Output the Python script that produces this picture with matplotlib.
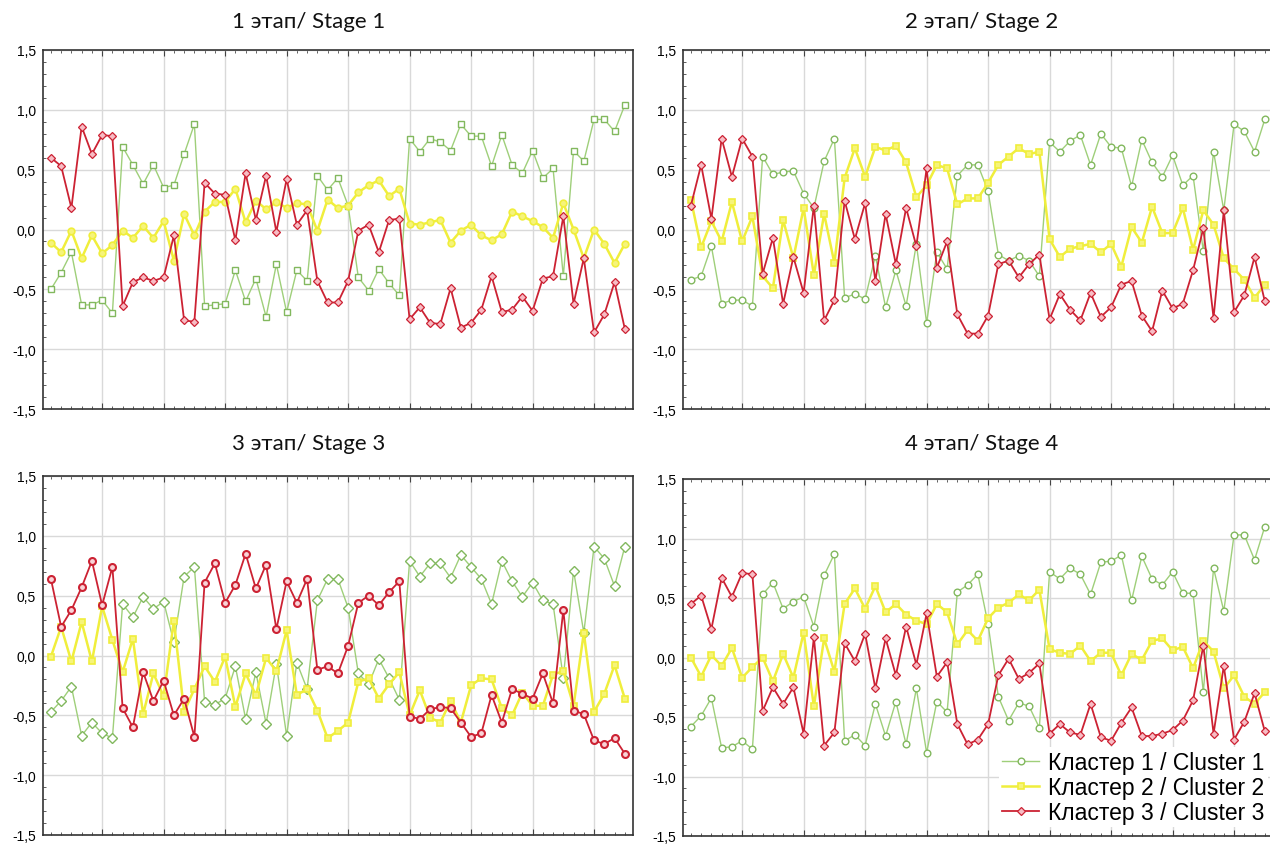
import matplotlib
matplotlib.use('Agg')
import matplotlib.pyplot as plt, numpy as np
from matplotlib.lines import Line2D
from matplotlib.ticker import FixedLocator, MultipleLocator, FuncFormatter

plt.rcParams['font.family'] = ['Liberation Sans', 'DejaVu Sans']

# ---- data (57 objects per stage) ----
x = np.arange(1, 58)

titles = ['1 этап/ Stage 1', '2 этап/ Stage 2', '3 этап/ Stage 3', '4 этап/ Stage 4']
labels = ['Кластер 1 / Cluster 1', 'Кластер 2 / Cluster 2', 'Кластер 3 / Cluster 3']

g1 = [-0.50, -0.36, -0.19, -0.63, -0.63, -0.59, -0.70, 0.69, 0.54, 0.38, 0.54, 0.35, 0.37, 0.63, 0.88,
      -0.64, -0.63, -0.62, -0.34, -0.60, -0.41, -0.73, -0.29, -0.69, -0.34, -0.43, 0.45, 0.33, 0.43, 0.20,
      -0.40, -0.51, -0.33, -0.45, -0.55, 0.76, 0.65, 0.76, 0.73, 0.66, 0.88, 0.78, 0.78, 0.53, 0.79, 0.54,
      0.47, 0.66, 0.43, 0.51, -0.39, 0.66, 0.57, 0.92, 0.92, 0.82, 1.04]
y1 = [-0.11, -0.19, -0.01, -0.24, -0.05, -0.20, -0.13, -0.01, -0.07, 0.03, -0.07, 0.07, -0.26, 0.13, -0.05,
      0.15, 0.23, 0.23, 0.34, 0.06, 0.24, 0.17, 0.23, 0.18, 0.22, 0.21, -0.01, 0.25, 0.18, 0.20, 0.31, 0.37,
      0.41, 0.28, 0.34, 0.05, 0.04, 0.06, 0.08, -0.11, -0.01, 0.04, -0.05, -0.09, -0.04, 0.15, 0.11, 0.07,
      0.02, -0.07, 0.22, 0.00, -0.24, 0.00, -0.12, -0.28, -0.12]
r1 = [0.60, 0.53, 0.18, 0.86, 0.63, 0.79, 0.78, -0.64, -0.44, -0.40, -0.43, -0.40, -0.05, -0.76, -0.77,
      0.39, 0.30, 0.29, -0.09, 0.47, 0.08, 0.45, -0.02, 0.42, 0.04, 0.16, -0.43, -0.61, -0.61, -0.43, -0.01,
      0.04, -0.19, 0.08, 0.09, -0.75, -0.65, -0.78, -0.79, -0.49, -0.82, -0.78, -0.67, -0.39, -0.69, -0.67,
      -0.56, -0.68, -0.41, -0.39, 0.11, -0.62, -0.24, -0.86, -0.71, -0.44, -0.83]

g2 = [-0.42, -0.39, -0.14, -0.62, -0.59, -0.59, -0.64, 0.61, 0.46, 0.48, 0.49, 0.30, 0.18, 0.57, 0.76,
      -0.57, -0.54, -0.58, -0.22, -0.65, -0.34, -0.64, -0.12, -0.78, -0.19, -0.33, 0.45, 0.54, 0.54, 0.32,
      -0.21, -0.26, -0.22, -0.26, -0.39, 0.73, 0.65, 0.74, 0.79, 0.54, 0.80, 0.69, 0.68, 0.36, 0.75, 0.56,
      0.44, 0.62, 0.37, 0.45, -0.18, 0.65, 0.16, 0.88, 0.82, 0.65, 0.92]
y2 = [0.25, -0.15, 0.07, -0.10, 0.23, -0.10, 0.11, -0.39, -0.49, 0.08, -0.24, 0.18, -0.38, 0.13, -0.28,
      0.43, 0.68, 0.44, 0.69, 0.66, 0.70, 0.56, 0.27, 0.37, 0.54, 0.51, 0.21, 0.26, 0.26, 0.39, 0.54, 0.61,
      0.68, 0.63, 0.65, -0.08, -0.23, -0.16, -0.14, -0.12, -0.19, -0.12, -0.31, 0.02, -0.11, 0.19, -0.03,
      -0.03, 0.18, -0.17, 0.16, 0.04, -0.24, -0.33, -0.42, -0.57, -0.46]
r2 = [0.20, 0.54, 0.09, 0.76, 0.44, 0.76, 0.61, -0.37, -0.07, -0.62, -0.23, -0.53, 0.20, -0.76, -0.59,
      0.24, -0.08, 0.22, -0.43, 0.13, -0.29, 0.18, -0.14, 0.51, -0.32, -0.10, -0.71, -0.87, -0.87, -0.72,
      -0.29, -0.26, -0.40, -0.29, -0.21, -0.75, -0.54, -0.67, -0.76, -0.53, -0.73, -0.65, -0.46, -0.43,
      -0.72, -0.85, -0.51, -0.66, -0.62, -0.34, 0.01, -0.74, 0.16, -0.69, -0.55, -0.23, -0.60]

g3 = [-0.47, -0.38, -0.26, -0.67, -0.56, -0.65, -0.69, 0.43, 0.32, 0.49, 0.39, 0.45, 0.11, 0.66, 0.74,
      -0.39, -0.41, -0.36, -0.09, -0.53, -0.14, -0.57, -0.07, -0.67, -0.06, -0.28, 0.46, 0.64, 0.64, 0.40,
      -0.15, -0.24, -0.03, -0.19, -0.37, 0.79, 0.66, 0.77, 0.77, 0.65, 0.84, 0.74, 0.64, 0.43, 0.79, 0.62,
      0.49, 0.61, 0.46, 0.43, -0.19, 0.71, 0.19, 0.91, 0.81, 0.58, 0.91]
y3 = [-0.01, 0.24, -0.05, 0.28, -0.05, 0.41, 0.13, -0.14, 0.14, -0.49, -0.15, -0.34, 0.29, -0.47, -0.28,
      -0.09, -0.22, -0.01, -0.43, -0.15, -0.33, -0.02, -0.13, 0.21, -0.33, -0.28, -0.46, -0.69, -0.63,
      -0.56, -0.22, -0.19, -0.36, -0.24, -0.14, -0.50, -0.29, -0.52, -0.56, -0.38, -0.56, -0.25, -0.19,
      -0.20, -0.44, -0.50, -0.31, -0.42, -0.42, -0.16, -0.13, -0.42, 0.19, -0.47, -0.32, -0.08, -0.36]
r3 = [0.64, 0.24, 0.38, 0.57, 0.79, 0.42, 0.74, -0.44, -0.60, -0.14, -0.38, -0.21, -0.50, -0.36, -0.68,
      0.61, 0.77, 0.44, 0.59, 0.85, 0.56, 0.76, 0.22, 0.62, 0.44, 0.64, -0.12, -0.09, -0.15, 0.08, 0.44,
      0.50, 0.42, 0.53, 0.62, -0.51, -0.53, -0.45, -0.43, -0.44, -0.56, -0.68, -0.65, -0.33, -0.56, -0.28,
      -0.32, -0.36, -0.15, -0.40, 0.38, -0.46, -0.49, -0.71, -0.74, -0.69, -0.82]

g4 = [-0.58, -0.49, -0.34, -0.76, -0.75, -0.70, -0.77, 0.53, 0.63, 0.41, 0.47, 0.51, 0.26, 0.69, 0.87,
      -0.70, -0.65, -0.74, -0.39, -0.66, -0.37, -0.73, -0.26, -0.80, -0.37, -0.46, 0.55, 0.61, 0.70, 0.28,
      -0.33, -0.53, -0.38, -0.41, -0.59, 0.72, 0.66, 0.75, 0.70, 0.53, 0.80, 0.81, 0.86, 0.48, 0.85, 0.66,
      0.61, 0.72, 0.54, 0.54, -0.29, 0.75, 0.39, 1.03, 1.03, 0.82, 1.10]
y4 = [0.00, -0.16, 0.02, -0.07, 0.08, -0.17, -0.08, 0.00, -0.20, 0.03, -0.17, 0.21, -0.41, 0.16, -0.12,
      0.45, 0.58, 0.41, 0.60, 0.38, 0.45, 0.36, 0.31, 0.28, 0.45, 0.38, 0.11, 0.23, 0.14, 0.33, 0.42, 0.46,
      0.53, 0.48, 0.57, 0.07, 0.04, 0.03, 0.10, -0.03, 0.04, 0.04, -0.15, 0.03, -0.02, 0.14, 0.16, 0.06,
      0.09, -0.09, 0.14, 0.05, -0.26, -0.15, -0.33, -0.39, -0.29]
r4 = [0.45, 0.52, 0.24, 0.67, 0.51, 0.71, 0.70, -0.45, -0.25, -0.39, -0.25, -0.64, 0.17, -0.74, -0.63,
      0.12, -0.03, 0.20, -0.26, 0.16, -0.15, 0.26, -0.06, 0.37, -0.16, -0.04, -0.56, -0.73, -0.69, -0.56,
      -0.15, -0.01, -0.18, -0.13, -0.05, -0.64, -0.56, -0.63, -0.65, -0.39, -0.67, -0.70, -0.55, -0.42,
      -0.66, -0.66, -0.64, -0.61, -0.53, -0.36, 0.10, -0.64, -0.07, -0.69, -0.54, -0.30, -0.62]

# marker shapes per stage: (cluster 1, cluster 2, cluster 3)
marks = [('s', 'o', 'D'), ('o', 's', 'D'), ('D', 's', 'o'), ('o', 's', 'D')]

GREEN, GREEN_E = '#9fcf7a', '#82b85e'
YELLOW, YELLOW_F = '#f0ee3c', '#f6f47a'
RED, RED_F = '#cc2233', '#f7bcc4'

# ---- layout in pixels (figure 1270 x 845) ----
W, H = 1270, 845
boxes = [(42.7, 51, 590.3, 359), (682.7, 51, 590.3, 359),
         (42.7, 477, 590.3, 359), (682.7, 480, 590.3, 357)]
title_pos = [(309, 22), (982, 22), (309, 444), (982, 444)]


def style(m, which):
    '''
    стиль линии и маркера
    '''
    if which == 0:
        return dict(color=GREEN, lw=1.0, marker=m, ms=4.8, mfc='white', mec=GREEN_E, mew=1.0, zorder=3)
    if which == 1:
        return dict(color=YELLOW, lw=1.8, marker=m, ms=4.8, mfc=YELLOW_F, mec=YELLOW, mew=1.2, zorder=4)
    if m == 'o':
        return dict(color=RED, lw=1.3, marker=m, ms=5, mfc='#f9d3d7', mec=RED, mew=1.5, zorder=5)
    return dict(color=RED, lw=1.3, marker=m, ms=4.3, mfc=RED_F, mec=RED, mew=0.9, zorder=5)


def panel(ax, series, mk):
    for k, s in enumerate(series):
        ax.plot(x, s, **style(mk[k], k))
    ax.set_xlim(0.2, 57.8)
    ax.set_ylim(-1.5, 1.5)
    ax.xaxis.set_major_locator(FixedLocator(np.arange(6, 57, 6)))
    ax.xaxis.set_minor_locator(MultipleLocator(1))
    ax.yaxis.set_major_locator(MultipleLocator(0.5))
    ax.yaxis.set_minor_locator(MultipleLocator(0.1))
    ax.yaxis.set_major_formatter(FuncFormatter(lambda v, p: ('%.1f' % v).replace('.', ',')))
    ax.grid(True, which='major', color='#d9d9d9', lw=1.0, zorder=0)
    ax.tick_params(axis='x', which='both', direction='in', top=True, labelbottom=False, color='#444444')
    ax.tick_params(axis='x', which='major', length=4)
    ax.tick_params(axis='x', which='minor', length=2)
    ax.tick_params(axis='y', which='both', direction='in', color='#444444', labelsize=10, pad=5)
    ax.tick_params(axis='y', which='major', length=0)
    ax.tick_params(axis='y', which='minor', length=2)
    for sp in ax.spines.values():
        sp.set_color('#333333')
        sp.set_linewidth(1.2)


fig = plt.figure(figsize=(W / 100, H / 100), dpi=100)
data = [(g1, y1, r1), (g2, y2, r2), (g3, y3, r3), (g4, y4, r4)]
axes = []
for i in range(4):
    l, t, w, h = boxes[i]
    ax = fig.add_axes([l / W, 1 - (t + h) / H, w / W, h / H])
    panel(ax, data[i], marks[i])
    fig.text(title_pos[i][0] / W, 1 - title_pos[i][1] / H, titles[i], ha='center', va='center',
             fontsize=16, family=['Lato', 'DejaVu Sans'], color='#111111')
    axes.append(ax)

handles = [Line2D([], [], **style(marks[3][k], k)) for k in range(3)]
leg = axes[3].legend(handles, labels, loc='lower right', bbox_to_anchor=(1268 / W, 17 / H),
                     bbox_transform=fig.transFigure, fontsize=16.5, frameon=True, facecolor='white',
                     edgecolor='none', framealpha=1, handlelength=1.6, handletextpad=0.4,
                     labelspacing=0.08, borderpad=0.15, borderaxespad=0)
leg.set_zorder(10)

fig.savefig('out.png', dpi=100)
